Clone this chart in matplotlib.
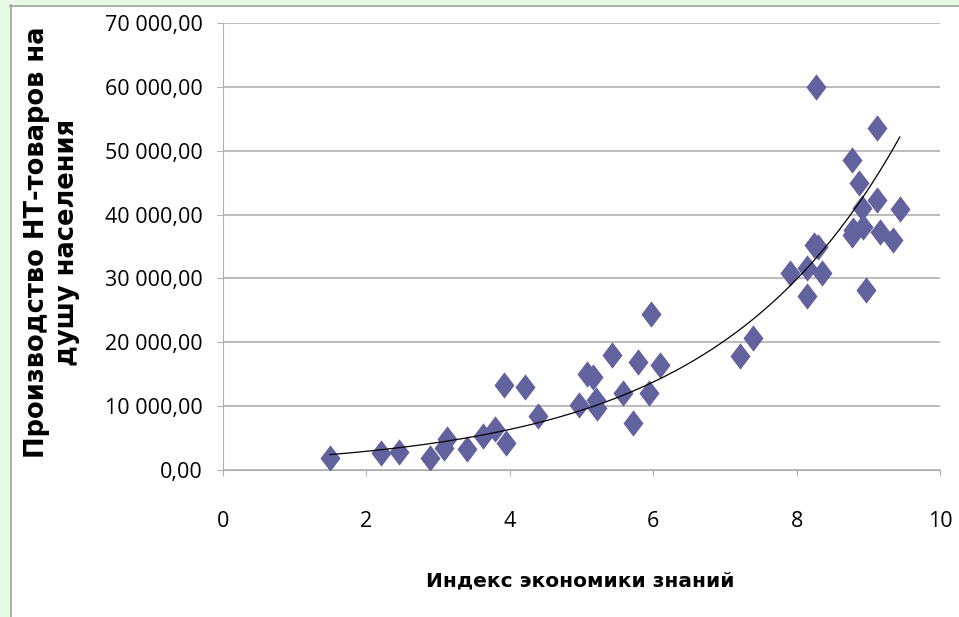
import numpy as np
import matplotlib.pyplot as plt
from matplotlib.patches import Rectangle
from matplotlib.lines import Line2D
from matplotlib.ticker import FuncFormatter

# knowledge economy index vs high-tech output per capita
kei = [1.49, 2.20, 2.45, 2.89, 3.08, 3.12, 3.40, 3.63, 3.79, 3.95,
       3.92, 4.21, 4.39, 4.97, 5.08, 5.16, 5.22, 5.20, 5.43, 5.58,
       5.72, 5.79, 5.94, 5.97, 6.09, 7.21, 7.39, 7.91, 8.14, 8.14,
       8.24, 8.30, 8.35, 8.27, 8.97, 9.12, 8.77, 8.87, 9.12, 9.44,
       8.91, 8.79, 8.93, 8.77, 9.16, 9.34]
ht_output = [1900, 2650, 2850, 1900, 3450, 4800, 3300, 5300, 6400, 4200,
             13300, 13000, 8450, 10200, 15000, 14600, 9700, 11000, 18000, 12100,
             7400, 16900, 12100, 24400, 16400, 17800, 20600, 30800, 27300, 31700,
             35300, 34900, 30800, 60000, 28200, 53500, 48500, 44900, 42300, 40800,
             41000, 37600, 38000, 36800, 37300, 36000]

x_ticks = [0, 2, 4, 6, 8, 10]
y_ticks = [0, 10000, 20000, 30000, 40000, 50000, 60000, 70000]

x = np.array(kei)
y = np.array(ht_output)

# exponential trend line (like Excel's)
b, ln_a = np.polyfit(x, np.log(y), 1)
xt = np.linspace(x.min(), x.max(), 200)
yt = np.exp(ln_a) * np.exp(b * xt)

fig = plt.figure(figsize=(9.59, 6.17), dpi=100)
ax = fig.add_axes([223/959, 1 - 470/617, (940 - 223)/959, (470 - 23)/617])

# diamond marker, taller than wide
diamond = [(0, 1), (0.76, 0), (0, -1), (-0.76, 0), (0, 1)]
ax.plot(x, y, linestyle='none', marker=diamond, markersize=19,
        color='#62629e', markeredgewidth=0, zorder=3)
ax.plot(xt, yt, color='black', linewidth=0.9, zorder=4)

ax.set_xlim(0, 10)
ax.set_ylim(0, 70000)
ax.set_xticks(x_ticks)
ax.set_yticks(y_ticks)
ax.yaxis.set_major_formatter(FuncFormatter(lambda v, p: f"{v:,.2f}".replace(",", " ").replace(".", ",")))
ax.grid(axis='y', color='#b0b0b0', linewidth=1.2)
ax.set_axisbelow(True)
for s in ['top', 'right']:
    ax.spines[s].set_visible(False)
ax.spines['left'].set_color('#b0b0b0')
ax.spines['bottom'].set_color('#b0b0b0')
ax.tick_params(axis='both', colors='#b0b0b0', labelcolor='black', length=4.5)
ax.tick_params(axis='y', pad=10)
ax.tick_params(axis='x', pad=25)
for lbl in ax.get_xticklabels() + ax.get_yticklabels():
    lbl.set_fontfamily('Open Sans')
    lbl.set_fontsize(15.5)

fig.text(580/959, 1 - 581/617, 'Индекс экономики знаний', ha='center', va='center',
         fontsize=14.5, fontweight='bold')
fig.text(52/959, 1 - 242/617, 'Производство НТ-товаров на\nдушу населения', ha='center', va='center',
         rotation=90, fontsize=18.5, fontweight='bold', linespacing=1.15)

# window frame
fig.add_artist(Rectangle((0, 1 - 5/617), 1, 5/617, transform=fig.transFigure,
                         facecolor='#e8fbe6', edgecolor='none'))
fig.add_artist(Rectangle((0, 0), 10/959, 1, transform=fig.transFigure,
                         facecolor='#e8fbe6', edgecolor='none'))
fig.add_artist(Line2D([10/959, 1], [1 - 5.5/617, 1 - 5.5/617], transform=fig.transFigure,
                      color='#9aa89a', linewidth=1.2))
fig.add_artist(Line2D([10.5/959, 10.5/959], [0, 1 - 5/617], transform=fig.transFigure,
                      color='#9aa89a', linewidth=1.2))

fig.savefig('out.png', dpi=100)
